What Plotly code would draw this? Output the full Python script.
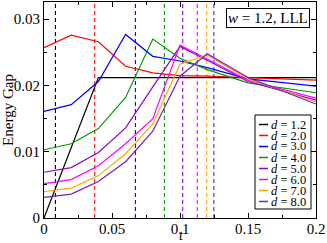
import plotly.graph_objects as go

# ---- data ----
t = [0.0, 0.02, 0.04, 0.06, 0.08, 0.10, 0.12, 0.15, 0.20]
d_labels = ["1.2", "2.0", "3.0", "4.0", "5.0", "6.0", "7.0", "8.0"]
gap_d12 = [0.0, 0.0106, 0.0212, 0.0212, 0.0212, 0.0212, 0.0212, 0.0212, 0.0212]
gap_d20 = [0.0257, 0.0276, 0.0266, 0.0229, 0.0219, 0.0215, 0.0214, 0.0212, 0.0208]
gap_d30 = [0.0161, 0.0171, 0.0206, 0.0277, 0.0244, 0.0237, 0.0227, 0.0210, 0.0199]
gap_d40 = [0.0103, 0.0112, 0.0135, 0.0182, 0.0270, 0.0241, 0.0224, 0.0204, 0.0189]
gap_d50 = [0.0069, 0.0076, 0.0099, 0.0136, 0.0198, 0.0259, 0.0238, 0.0206, 0.0178]
gap_d60 = [0.0052, 0.0058, 0.0079, 0.0112, 0.0150, 0.0261, 0.0240, 0.0208, 0.0181]
gap_d70 = [0.0040, 0.0045, 0.0064, 0.0097, 0.0142, 0.0232, 0.0246, 0.0210, 0.0175]
gap_d80 = [0.0031, 0.0036, 0.0055, 0.0085, 0.0131, 0.0214, 0.0248, 0.0212, 0.0172]
transition_t = [0.0084, 0.0373, 0.0672, 0.0885, 0.1020, 0.1127, 0.1196, 0.1249]
x_ticks = [0, 0.05, 0.1, 0.15, 0.2]
x_ticktext = ["0", "0.05", "0.1", "0.15", "0.2"]
y_ticks = [0, 0.01, 0.02, 0.03]
y_ticktext = ["0", "0.01", "0.02", "0.03"]

series = [gap_d12, gap_d20, gap_d30, gap_d40, gap_d50, gap_d60, gap_d70, gap_d80]
colors = ["#000000", "#ff0000", "#0000ff", "#009a00", "#9400d3", "#ff00ff", "#ffa500", "#7221bc"]

FONT = "Liberation Serif, Times New Roman, serif"

fig = go.Figure()

# dashed transition lines
for tt, c in zip(transition_t, colors):
    fig.add_vline(x=tt, line=dict(color=c, width=1.1, dash="4px,3px"), layer="below")

for ys, c, lab in zip(series, colors, d_labels):
    fig.add_trace(go.Scatter(x=t, y=ys, mode="lines", line=dict(color=c, width=1.2),
                             name="d = " + lab, showlegend=False))

W, H = 327, 243
L, R, T, B = 44, 11, 2, 25
pw, ph = W - L - R, H - T - B

def px(xp):
    return (xp - L) / pw

def py(yp):
    return (H - B - yp) / ph

# custom legend (compact like the original)
fig.add_shape(type="rect", xref="paper", yref="paper",
              x0=px(255), x1=px(311), y0=py(209), y1=py(115),
              line=dict(color="black", width=1), fillcolor="white", layer="above")
for i, (c, lab) in enumerate(zip(colors, d_labels)):
    yy = 124.5 + 11 * i
    fig.add_shape(type="line", xref="paper", yref="paper",
                  x0=px(259), x1=px(268), y0=py(yy), y1=py(yy),
                  line=dict(color=c, width=1.5), layer="above")
    fig.add_annotation(xref="paper", yref="paper", x=px(270), y=py(yy),
                       xanchor="left", yanchor="middle", showarrow=False, borderpad=0,
                       text="<i>d</i> = " + lab, font=dict(family=FONT, size=12.5, color="black"))

# label box
fig.add_annotation(xref="paper", yref="paper", x=px(310), y=py(8),
                   xanchor="right", yanchor="top", showarrow=False,
                   text="<i>w</i> = 1.2, LLL", font=dict(family=FONT, size=15, color="black"),
                   bordercolor="black", borderwidth=1, borderpad=1, bgcolor="white")

# x axis title
fig.add_annotation(xref="paper", yref="paper", x=px(181), y=py(235.5),
                   showarrow=False, text="<i>t</i>", xanchor="center", yanchor="middle",
                   borderpad=0,
                   font=dict(family=FONT, size=14, color="black"))

axis_common = dict(showline=True, linecolor="black", linewidth=1, mirror="ticks",
                   ticks="inside", ticklen=5, tickcolor="black", showgrid=False,
                   zeroline=False, tickfont=dict(family=FONT, size=15, color="black"))

fig.update_layout(
    width=W, height=H, margin=dict(l=L, r=R, t=T, b=B),
    paper_bgcolor="white", plot_bgcolor="white",
    xaxis=dict(range=[0, 0.2], tickvals=x_ticks, ticktext=x_ticktext, ticklabelstandoff=-3,
               minor=dict(dtick=0.025, ticks="inside", ticklen=3, tickcolor="black"),
               **axis_common),
    yaxis=dict(range=[0, 0.0326], tickvals=y_ticks, ticktext=y_ticktext,
               title=dict(text="Energy Gap", font=dict(family=FONT, size=15, color="black"),
                          standoff=0),
               minor=dict(dtick=0.005, ticks="inside", ticklen=3, tickcolor="black"),
               **axis_common),
)

fig.write_html("out.html", config={"displayModeBar": False},
               post_script="document.body.style.margin='0';document.body.style.padding='0';"
                           "document.body.style.overflow='hidden';")
